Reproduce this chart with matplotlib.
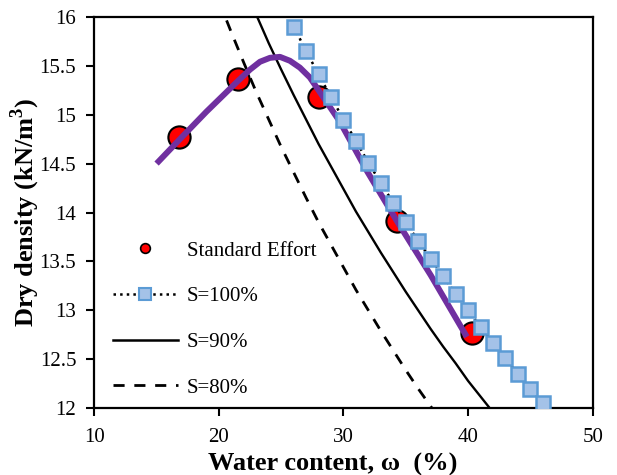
import matplotlib
matplotlib.use("Agg")
import matplotlib.pyplot as plt
from matplotlib.lines import Line2D

plt.rcParams['font.family'] = ['Liberation Serif', 'DejaVu Serif']
plt.rcParams['mathtext.fontset'] = 'custom'
plt.rcParams['mathtext.rm'] = 'Liberation Serif'
plt.rcParams['mathtext.bf'] = 'Liberation Serif:bold'

# compaction test, standard effort
w_test = [16.8, 21.5, 28.0, 34.3, 40.3]
gd_test = [14.77, 15.36, 15.18, 13.91, 12.77]

# fitted compaction curve
w_fit = [15.0, 16.8, 19.0, 21.5, 22.5, 23.3, 24.1, 24.9, 25.7, 26.5, 27.3,
         28.1, 28.9, 29.7, 31.9, 34.3, 37.0, 39.9]
gd_fit = [14.50, 14.74, 15.03, 15.34, 15.46, 15.54, 15.58, 15.59, 15.55,
          15.48, 15.38, 15.23, 15.08, 14.93, 14.42, 13.91, 13.36, 12.73]

# saturation lines
w_s100 = [26, 27, 28, 29, 30, 31, 32, 33, 34, 35, 36, 37, 38, 39, 40, 41, 42,
          43, 44, 45, 46]
gd_s100 = [15.90, 15.65, 15.41, 15.18, 14.95, 14.73, 14.51, 14.30, 14.10,
           13.90, 13.71, 13.53, 13.35, 13.17, 13.00, 12.83, 12.67, 12.51,
           12.35, 12.20, 12.05]

w_s90 = [23, 24, 25, 26, 27, 28, 29, 30, 31, 32, 33, 34, 35, 36, 37, 38, 39,
         40, 41, 42]
gd_s90 = [16.02, 15.73, 15.46, 15.20, 14.95, 14.70, 14.47, 14.24, 14.01,
          13.80, 13.59, 13.39, 13.19, 13.00, 12.81, 12.63, 12.46, 12.28,
          12.12, 11.96]

w_s80 = [20, 21, 22, 23, 24, 25, 26, 27, 28, 29, 30, 31, 32, 33, 34, 35, 36,
         37, 38]
gd_s80 = [16.16, 15.84, 15.53, 15.23, 14.95, 14.67, 14.41, 14.15, 13.90,
          13.67, 13.44, 13.21, 13.00, 12.79, 12.59, 12.39, 12.20, 12.02, 11.84]

purple = '#7030A0'
sq_face = '#A4C2E8'
sq_edge = '#5B9BD5'

fig = plt.figure(figsize=(6.17, 4.75), dpi=100)
ax = fig.add_axes([0.1528, 0.1404, 0.8078, 0.8244])

ax.plot(w_s80, gd_s80, color='black', lw=2.0, ls=(0, (4, 3.5)), zorder=2)
ax.plot(w_s90, gd_s90, color='black', lw=1.7, zorder=2)
ax.plot(w_s100, gd_s100, color='black', lw=1.8, ls=':', marker='s', ms=10,
        mfc=sq_face, mec=sq_edge, mew=1.8, zorder=5)
ax.plot(w_test, gd_test, ls='none', marker='o', ms=16, mfc='red',
        mec='black', mew=1.5, zorder=3)
ax.plot(w_fit, gd_fit, color=purple, lw=4.3, solid_capstyle='butt', zorder=4)

ax.set_xlim(10, 50)
ax.set_ylim(12, 16)
ax.set_xticks([10, 20, 30, 40, 50])
ax.set_yticks([12, 12.5, 13, 13.5, 14, 14.5, 15, 15.5, 16])
ax.set_yticklabels(['12', '12.5', '13', '13.5', '14', '14.5', '15', '15.5', '16'])
ax.tick_params(direction='out', length=6, width=1.5, labelsize=15)
ax.tick_params(axis='x', pad=8)
ax.tick_params(axis='y', pad=7)
for s in ax.spines.values():
    s.set_linewidth(1.6)

ax.set_xlabel('Water content, ω  (%)', fontsize=19, fontweight='bold')
ax.xaxis.set_label_coords(0.478, -0.115)
ax.set_ylabel('Dry density (kN/m$^\\mathbf{3}$)', fontsize=19,
              fontweight='bold', labelpad=-2)

handles = [
    Line2D([], [], ls='none', marker='o', ms=7, mfc='red', mec='black', mew=1.2),
    Line2D([], [], color='black', lw=1.8, ls=':', marker='s', ms=8,
           mfc=sq_face, mec=sq_edge, mew=1.5),
    Line2D([], [], color='black', lw=1.8),
    Line2D([], [], color='black', lw=2.0, ls=(0, (4, 3.5))),
]
labels = ['Standard Effort', 'S=100%', 'S=90%', 'S=80%']
ax.legend(handles, labels, loc='upper left', bbox_to_anchor=(0.0, 0.475),
          frameon=False, fontsize=15, handlelength=3.1, labelspacing=1.25,
          handletextpad=0.45)

fig.savefig('out.png', dpi=100)
